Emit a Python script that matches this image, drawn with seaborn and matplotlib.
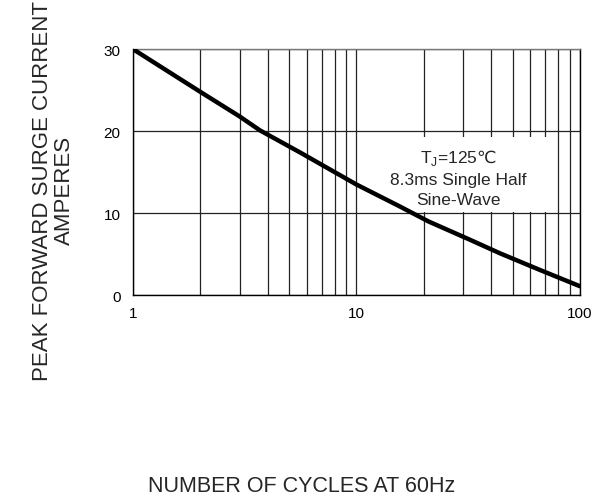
import matplotlib
matplotlib.use("Agg")
import matplotlib.pyplot as plt
import seaborn as sns
import pandas as pd
from matplotlib.patches import Rectangle
from matplotlib.ticker import FixedLocator, NullFormatter

# values
cycles = [1, 2, 3, 3.7, 5.6, 10, 15.7, 21, 32, 44, 66, 100]
amps = [30, 24.8, 21.8, 20.1, 17.4, 13.5, 10.8, 9.0, 6.8, 5.1, 3.1, 1.1]
x_major = [1, 10, 100]
x_minor = [2, 3, 4, 5, 6, 7, 8, 9, 20, 30, 40, 50, 60, 70, 80, 90]
y_ticks = [0, 10, 20, 30]

df = pd.DataFrame({'cycles': cycles, 'amps': amps})

sns.set_style('white')
plt.rcParams['font.family'] = ['Liberation Sans', 'DejaVu Sans']
plt.rcParams['mathtext.fontset'] = 'dejavusans'

fig = plt.figure(figsize=(5.94, 5.02), dpi=100)
ax = fig.add_axes([0.224, 0.410, 0.752, 0.490])

ax.set_xscale('log')
ax.set_xlim(1, 100)
ax.set_ylim(0, 30)

sns.lineplot(x='cycles', y='amps', data=df, ax=ax, color='black', linewidth=3.2, zorder=5)

ax.set_xticks(x_major)
ax.set_xticklabels(['1', '10', '100'])
ax.xaxis.set_minor_locator(FixedLocator(x_minor))
ax.xaxis.set_minor_formatter(NullFormatter())
ax.set_yticks(y_ticks)
ax.set_yticklabels([str(v) for v in y_ticks])
ax.tick_params(axis='both', which='both', length=0, labelsize=11, colors='black')
ax.tick_params(axis='y', pad=9)
ax.tick_params(axis='x', pad=8)

ax.set_axisbelow(True)
ax.grid(True, which='both', color='#222222', linewidth=0.9)
for s in ax.spines.values():
    s.set_visible(True)
    s.set_color('black')
    s.set_linewidth(1.0)
ax.spines['top'].set_color('#777777')

ax.set_xlabel('')
ax.set_ylabel('')

# white background behind the condition note
ax.add_patch(Rectangle((0.519, 0.337), 0.414, 0.305, transform=ax.transAxes,
                       facecolor='white', edgecolor='none', zorder=2))
ax.text(28.5, 14.4, 'T$_\\mathregular{J}$=125$\\mathrm{\u2103}$\n8.3ms Single Half\nSine-Wave',
        ha='center', va='center', fontsize=12.5, linespacing=1.4, zorder=6)

fig.text(0.09, 0.62, 'PEAK FORWARD SURGE CURRENT\nAMPERES', rotation=90,
         ha='center', va='center', multialignment='center', fontsize=16, linespacing=1.1)
fig.text(0.508, 0.03, 'NUMBER OF CYCLES AT 60Hz', ha='center', va='center', fontsize=15.5)

plt.savefig('out.png', dpi=100)
